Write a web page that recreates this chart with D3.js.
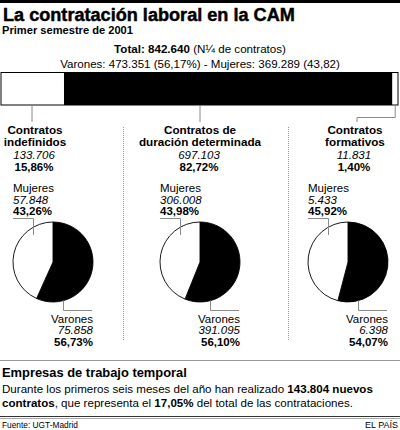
<!DOCTYPE html>
<html><head><meta charset="utf-8">
<script src="https://cdn.jsdelivr.net/npm/d3@7"></script>
<style>
html,body{margin:0;padding:0;background:#fff;}
svg{display:block;font-family:"Liberation Sans",Arial,Helvetica,sans-serif;}
</style></head>
<body>
<svg id="c" width="400" height="430"></svg>
<script>
// ---- data ----
const title = "La contratación laboral en la CAM";
const subtitle = "Primer semestre de 2001";
const grandTotal = 842640;
const totalVarones = 473351, totalVaronesPct = 56.17;
const totalMujeres = 369289, totalMujeresPct = 43.82;
const categoryLines = [["Contratos","indefinidos"],["Contratos de","duración determinada"],["Contratos","formativos"]];
const categoryTotals = [133706, 697103, 11831];
const categoryPct = [15.86, 82.72, 1.40];
const mujeres = [57848, 306008, 5433];
const mujeresPct = [43.26, 43.98, 45.92];
const varones = [75858, 391095, 6398];
const varonesPct = [56.73, 56.10, 54.07];
const barColors = ["#fff", "#000", "#fff"];
const ettContratos = 143804, ettPct = 17.05;
const source = "Fuente: UGT-Madrid", credit = "EL PAÍS";

// ---- helpers ----
const loc = d3.formatLocale({decimal:",", thousands:".", grouping:[3], currency:["","€"]});
const fInt = loc.format(",d");
const fPct = v => loc.format(".2f")(v) + "%";
const svg = d3.select("#c");
const grey = "#8a8a8a";
function fit(sel, w){
  const fs = parseFloat(sel.attr("font-size"));
  const cur = sel.node().getComputedTextLength();
  sel.attr("font-size", (fs*w/cur).toFixed(2));
  return sel;
}

// top rule
svg.append("rect").attr("x",0).attr("y",0).attr("width",400).attr("height",3).attr("fill","#000");

// titles
fit(svg.append("text").attr("x",3).attr("y",20.5).attr("font-size",20).attr("font-weight","bold")
  .attr("stroke","#000").attr("stroke-width",0.45).text(title), 292);
fit(svg.append("text").attr("x",2).attr("y",34).attr("font-size",12).attr("font-weight","bold").text(subtitle), 131);

const t1 = svg.append("text").attr("x",200).attr("y",53).attr("text-anchor","middle").attr("font-size",12);
t1.append("tspan").attr("font-weight","bold").text("Total: " + fInt(grandTotal));
t1.append("tspan").text(" (N¼ de contratos)");
fit(t1, 172);
const t2 = svg.append("text").attr("x",200).attr("y",68).attr("text-anchor","middle").attr("font-size",12)
  .text(`Varones: ${fInt(totalVarones)} (${loc.format(".2f")(totalVaronesPct)}%) - Mujeres: ${fInt(totalMujeres)} (${loc.format(".2f")(totalMujeresPct)})`);
fit(t2, 280);

// stacked bar
const x = d3.scaleLinear().domain([0, d3.sum(categoryTotals)]).range([1, 398]);
const stack = [];
let acc = 0;
categoryTotals.forEach((v,i)=>{ stack.push({i, x0:acc, x1:acc+v}); acc += v; });
const barY = 72.5, barH = 32.5;
svg.append("g").selectAll("rect").data(stack).join("rect")
  .attr("x", d=>x(d.x0)).attr("y", barY).attr("width", d=>x(d.x1)-x(d.x0)).attr("height", barH)
  .attr("fill", d=>barColors[d.i]);
svg.append("rect").attr("x",1).attr("y",barY).attr("width",x(acc)-1).attr("height",barH)
  .attr("fill","none").attr("stroke","#000").attr("stroke-width",1);

// columns
const colCenters = [35, 200, 355];
const pieCx = [53, 200, 348];
const pieCy = 262, R = 40;

// leaders from bar
stack.forEach(d=>{
  const a = x(d.x0), b = x(d.x1), c = colCenters[d.i];
  let pts;
  if (c > a && c < b) pts = [[c-3, barY+barH],[c-3,122]];
  else { const m = (a+b)/2; pts = [[m, barY+barH],[m,117.5],[c+2,117.5],[c+2,122]]; }
  if (d.i === 1) pts = [[c, barY+barH],[c,122]];
  svg.append("path").attr("d", d3.line()(pts)).attr("fill","none").attr("stroke",grey).attr("stroke-width",1);
});

// separators
[123, 288].forEach(sx=>{
  svg.append("line").attr("x1",sx+0.5).attr("x2",sx+0.5).attr("y1",127).attr("y2",340)
    .attr("stroke","#999").attr("stroke-width",1).attr("stroke-dasharray","1,1");
});

const pie = d3.pie().sort(null).value(d=>d.v);
const arc = d3.arc().innerRadius(0).outerRadius(R);

categoryLines.forEach((lines,i)=>{
  const g = svg.append("g");
  const cc = colCenters[i];
  lines.forEach((ln,k)=>{
    g.append("text").attr("x",cc).attr("y",133.5+12.8*k).attr("text-anchor","middle")
      .attr("font-size",11.7).attr("font-weight","bold").text(ln);
  });
  g.append("text").attr("x",cc-1).attr("y",158.5).attr("text-anchor","middle").attr("font-size",11.5)
    .attr("font-style","italic").text(fInt(categoryTotals[i]));
  g.append("text").attr("x",cc-1).attr("y",170.5).attr("text-anchor","middle").attr("font-size",11.5)
    .attr("font-weight","bold").text(fPct(categoryPct[i]));

  const cx = pieCx[i];
  // Mujeres labels
  const lx = cx - R;
  g.append("text").attr("x",lx).attr("y",192).attr("font-size",11.5).text("Mujeres");
  g.append("text").attr("x",lx).attr("y",203.5).attr("font-size",11.5).attr("font-style","italic").text(fInt(mujeres[i]));
  g.append("text").attr("x",lx).attr("y",215).attr("font-size",11.5).attr("font-weight","bold").text(fPct(mujeresPct[i]));
  // Varones labels
  const rx = cx + R;
  g.append("text").attr("x",rx).attr("y",322.5).attr("text-anchor","end").attr("font-size",11.5).text("Varones");
  g.append("text").attr("x",rx).attr("y",334).attr("text-anchor","end").attr("font-size",11.5).attr("font-style","italic").text(fInt(varones[i]));
  g.append("text").attr("x",rx).attr("y",345.5).attr("text-anchor","end").attr("font-size",11.5).attr("font-weight","bold").text(fPct(varonesPct[i]));

  // pie
  const data = [{v:varones[i], c:"#000"},{v:mujeres[i], c:"#fff"}];
  const pg = g.append("g").attr("transform",`translate(${cx},${pieCy})`);
  pg.selectAll("path").data(pie(data)).join("path").attr("d",arc)
    .attr("fill",d=>d.data.c).attr("stroke","#000").attr("stroke-width",0.9);

  // pie leaders
  const mx = Math.round(cx - R*0.5) + 0.5;
  svg.append("path").attr("d", d3.line()([[lx, 218.5],[mx,218.5],[mx,235]]))
    .attr("fill","none").attr("stroke",grey).attr("stroke-width",1);
  const vx = Math.round(cx + R*0.25) + 0.5;
  svg.append("path").attr("d", d3.line()([[vx, pieCy + R*0.96],[vx,310.5],[rx-1,310.5]]))
    .attr("fill","none").attr("stroke",grey).attr("stroke-width",1);
});

// bottom section
svg.append("line").attr("x1",0).attr("x2",400).attr("y1",360.5).attr("y2",360.5).attr("stroke","#999").attr("stroke-width",1);
fit(svg.append("text").attr("x",2).attr("y",377).attr("font-size",13).attr("font-weight","bold").text("Empresas de trabajo temporal"), 185);

const b1 = svg.append("text").attr("x",2).attr("y",393).attr("font-size",12.5);
b1.append("tspan").text("Durante los primeros seis meses del año han realizado ");
b1.append("tspan").attr("font-weight","bold").text(fInt(ettContratos) + " nuevos");
fit(b1, 371);
const bfs = b1.attr("font-size");
const b2 = svg.append("text").attr("x",2).attr("y",406.5).attr("font-size",bfs);
b2.append("tspan").attr("font-weight","bold").text("contratos");
b2.append("tspan").text(", que representa el ");
b2.append("tspan").attr("font-weight","bold").text(fPct(ettPct));
b2.append("tspan").text(" del total de las contrataciones.");

svg.append("line").attr("x1",0).attr("x2",400).attr("y1",416.5).attr("y2",416.5).attr("stroke","#333").attr("stroke-width",1);
svg.append("line").attr("x1",0).attr("x2",400).attr("y1",418.5).attr("y2",418.5).attr("stroke","#aaa").attr("stroke-width",1);
fit(svg.append("text").attr("x",2).attr("y",427.5).attr("font-size",10).text(source), 76);
svg.append("text").attr("x",398).attr("y",427.5).attr("text-anchor","end").attr("font-size",9).text(credit);
</script>
</body></html>
